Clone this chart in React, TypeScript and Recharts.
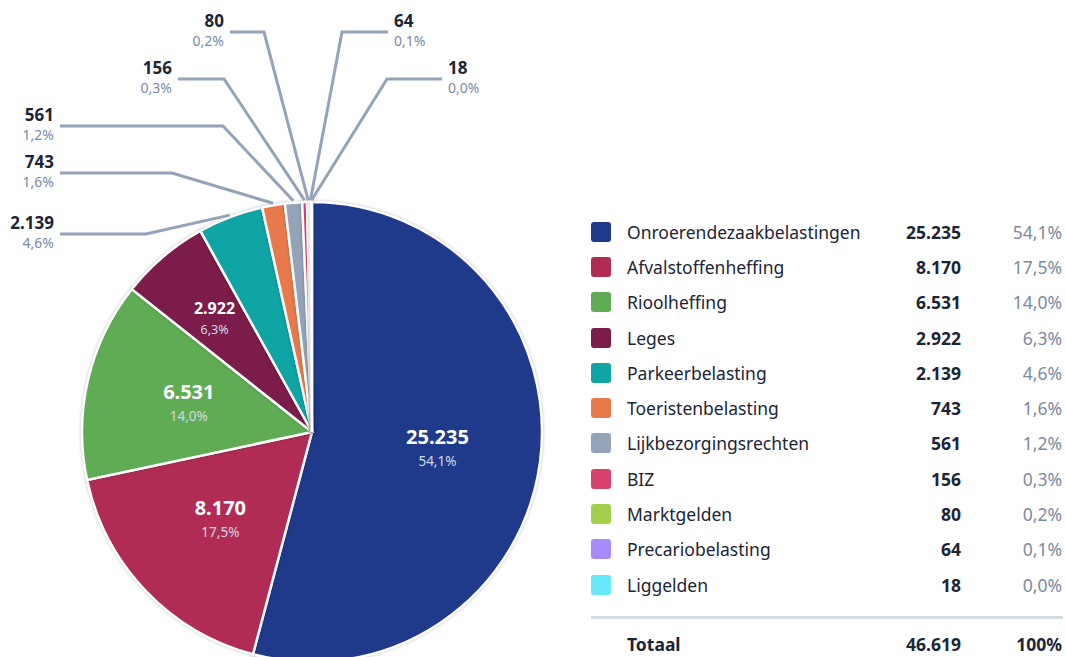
import React from "react";
import { PieChart, Pie, Cell, Legend } from "recharts";

const names = [
  "Onroerendezaakbelastingen",
  "Afvalstoffenheffing",
  "Rioolheffing",
  "Leges",
  "Parkeerbelasting",
  "Toeristenbelasting",
  "Lijkbezorgingsrechten",
  "BIZ",
  "Marktgelden",
  "Precariobelasting",
  "Liggelden",
];
const values = [25235, 8170, 6531, 2922, 2139, 743, 561, 156, 80, 64, 18];
const colors = [
  "#1f3a8a",
  "#b02c55",
  "#5fac55",
  "#7b1c4b",
  "#0ea5a4",
  "#e8794a",
  "#94a3b8",
  "#d9436b",
  "#a3d04a",
  "#a78bfa",
  "#67e8f9",
];
const totalLabel = "Totaal";

const total = values.reduce((a, b) => a + b, 0);
const data = names.map((name, i) => ({ name, value: values[i] }));

const FONT = "'Noto Sans', 'Open Sans', sans-serif";
const DARK = "#1c2536";
const GRAY = "#7c8aa0";
const LINE = "#94a3b8";

function fmtNum(v: number): string {
  const s = Math.round(v).toString();
  return s.replace(/\B(?=(\d{3})+(?!\d))/g, ".");
}
function fmtPct(v: number): string {
  return (v * 100).toFixed(1).replace(".", ",") + "%";
}

// layout of leader lines for the small slices (styling, not data)
const outside: Record<number, { lineY: number; elbowX: number; endX: number; side: "left" | "right" }> = {
  4: { lineY: 234, elbowX: 146, endX: 60, side: "left" },
  5: { lineY: 173, elbowX: 172, endX: 60, side: "left" },
  6: { lineY: 126, elbowX: 223, endX: 60, side: "left" },
  7: { lineY: 79, elbowX: 224, endX: 178, side: "left" },
  8: { lineY: 32, elbowX: 264, endX: 230, side: "left" },
  9: { lineY: 32, elbowX: 342, endX: 388, side: "right" },
  10: { lineY: 79, elbowX: 387, endX: 442, side: "right" },
};
const insideRadius = [0.55, 0.55, 0.55, 0.655];
const insideValueSize = [20, 20, 20, 16];
const insidePctSize = [13.5, 13.5, 13.5, 12.5];

const RAD = Math.PI / 180;

function renderLabel(props: any) {
  const { cx, cy, midAngle, outerRadius, index, value } = props;
  const pct = value / total;
  if (index < 4) {
    const r = outerRadius * insideRadius[index];
    const x = cx + r * Math.cos(-midAngle * RAD);
    const y = cy + r * Math.sin(-midAngle * RAD);
    const vs = insideValueSize[index];
    const ps = insidePctSize[index];
    return (
      <g key={`lbl-${index}`}>
        <text x={x} y={y - vs * 0.6} textAnchor="middle" dominantBaseline="central" fill="#ffffff" fontWeight={700} fontSize={vs} fontFamily={FONT}>
          {fmtNum(value)}
        </text>
        <text x={x} y={y + ps * 0.95} textAnchor="middle" dominantBaseline="central" fill="#d3d9e6" fontSize={ps} fontFamily={FONT}>
          {fmtPct(pct)}
        </text>
      </g>
    );
  }
  const o = outside[index];
  if (!o) return null;
  const ax = cx + (outerRadius + 2) * Math.cos(-midAngle * RAD);
  const ay = cy + (outerRadius + 2) * Math.sin(-midAngle * RAD);
  const tx = o.side === "left" ? o.endX - 6 : o.endX + 6;
  const anchor = o.side === "left" ? "end" : "start";
  return (
    <g key={`lbl-${index}`}>
      <polyline
        points={`${ax},${ay} ${o.elbowX},${o.lineY} ${o.endX},${o.lineY}`}
        fill="none"
        stroke={LINE}
        strokeWidth={3}
      />
      <text x={tx} y={o.lineY - 12} textAnchor={anchor} dominantBaseline="central" fill={DARK} fontWeight={700} fontSize={17} fontFamily={FONT}>
        {fmtNum(value)}
      </text>
      <text x={tx} y={o.lineY + 8} textAnchor={anchor} dominantBaseline="central" fill={GRAY} fontSize={14} fontFamily={FONT}>
        {fmtPct(pct)}
      </text>
    </g>
  );
}

function LegendTable() {
  const rowH = 35.3;
  return (
    <div style={{ position: "relative", width: 471, fontFamily: FONT, fontSize: 17.5, color: DARK }}>
      {names.map((n, i) => (
        <div key={n} style={{ position: "relative", height: rowH, display: "flex", alignItems: "center" }}>
          <div style={{ width: 20, height: 20, borderRadius: 3, background: colors[i], flex: "none" }} />
          <div style={{ position: "absolute", left: 36, whiteSpace: "nowrap" }}>{n}</div>
          <div style={{ position: "absolute", right: 101, fontWeight: 700 }}>{fmtNum(values[i])}</div>
          <div style={{ position: "absolute", right: 0, color: GRAY }}>{fmtPct(values[i] / total)}</div>
        </div>
      ))}
      <div style={{ height: 14 }} />
      <div style={{ height: 3, background: "#d5dbe5", width: 472 }} />
      <div style={{ position: "relative", height: 50, display: "flex", alignItems: "center", fontWeight: 700 }}>
        <div style={{ position: "absolute", left: 36 }}>{totalLabel}</div>
        <div style={{ position: "absolute", right: 101 }}>{fmtNum(total)}</div>
        <div style={{ position: "absolute", right: 0 }}>100%</div>
      </div>
    </div>
  );
}

export default function App() {
  return (
    <div style={{ position: "absolute", left: 0, top: 0, width: 1066, height: 657, background: "#ffffff", overflow: "hidden" }}>
      <PieChart width={1066} height={657} margin={{ top: 0, right: 0, bottom: 0, left: 0 }}>
        <Pie
          data={data}
          dataKey="value"
          nameKey="name"
          cx={312}
          cy={432}
          outerRadius={230}
          startAngle={90}
          endAngle={-270}
          stroke="#ffffff"
          strokeWidth={2.5}
          label={renderLabel}
          labelLine={false}
          isAnimationActive={false}
          style={{ filter: "drop-shadow(0 0 1.5px rgba(0,0,0,0.25))" }}
        >
          {data.map((d, i) => (
            <Cell key={d.name} fill={colors[i]} />
          ))}
        </Pie>
        <Legend
          content={() => <LegendTable />}
          wrapperStyle={{ position: "absolute", left: 591, top: 214, width: 471 }}
        />
      </PieChart>
    </div>
  );
}
